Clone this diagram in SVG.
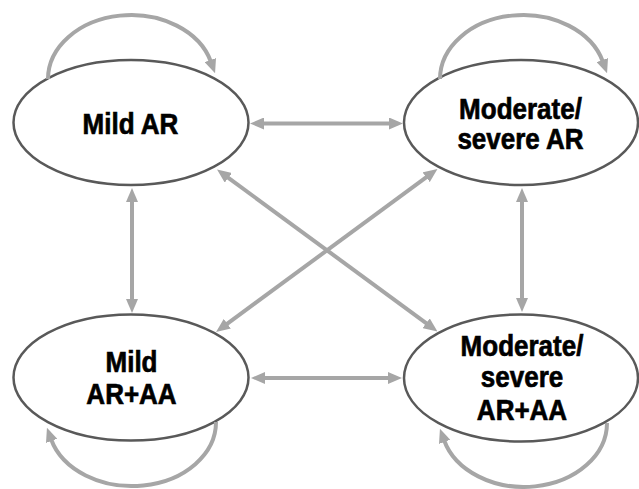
<svg xmlns="http://www.w3.org/2000/svg" width="639" height="489" viewBox="0 0 639 489">
<style>
.node ellipse{fill:#ffffff;stroke:#595959;stroke-width:2.5}
.node text{font-family:"Liberation Sans",Arial,sans-serif;font-weight:700;font-size:26px;fill:#000000;stroke:#000000;stroke-width:0.6;text-anchor:middle}
.conn{fill:none;stroke:#A6A6A6;stroke-width:4}
</style>
<defs>
<marker id="ah" markerUnits="userSpaceOnUse" markerWidth="14" markerHeight="12" viewBox="0 0 14 12" refX="2" refY="6" orient="auto-start-reverse">
<path d="M0,0 L14,6 L0,12 z" fill="#A6A6A6"/>
</marker>
</defs>
<rect width="639" height="489" fill="#ffffff"/>
<g id="node-mild-ar" class="node">
<ellipse cx="131" cy="122.5" rx="117.5" ry="62.5"/>
<text transform="translate(130.5,134) scale(1,1.1)">Mild AR</text>
</g>
<g id="node-modsev-ar" class="node">
<ellipse cx="521" cy="122.5" rx="117" ry="62.5"/>
<text transform="translate(520.5,118.5) scale(1,1.1)">Moderate/</text>
<text transform="translate(520.5,148.5) scale(1,1.1)">severe AR</text>
</g>
<g id="node-mild-araa" class="node">
<ellipse cx="131" cy="377.5" rx="117.5" ry="63"/>
<text transform="translate(131.5,372) scale(1,1.1)">Mild</text>
<text transform="translate(131.5,404) scale(1,1.1)">AR+AA</text>
</g>
<g id="node-modsev-araa" class="node">
<ellipse cx="521" cy="378" rx="117" ry="63.5"/>
<text transform="translate(522,356) scale(1,1.1)">Moderate/</text>
<text transform="translate(522,387) scale(1,1.1)">severe</text>
<text transform="translate(522,420) scale(1,1.1)">AR+AA</text>
</g>
<g id="connectors">
<line class="conn" x1="262" y1="123.5" x2="391" y2="123.5" marker-start="url(#ah)" marker-end="url(#ah)"/>
<line class="conn" x1="263" y1="378" x2="390" y2="378" marker-start="url(#ah)" marker-end="url(#ah)"/>
<line class="conn" x1="132" y1="200" x2="132" y2="301" marker-start="url(#ah)" marker-end="url(#ah)"/>
<line class="conn" x1="522" y1="200" x2="522" y2="300" marker-start="url(#ah)" marker-end="url(#ah)"/>
<line class="conn" x1="226.7" y1="176.6" x2="427.8" y2="324.4" marker-start="url(#ah)" marker-end="url(#ah)"/>
<line class="conn" x1="427.8" y1="176.1" x2="225.7" y2="324.9" marker-start="url(#ah)" marker-end="url(#ah)"/>
<path class="conn" d="M48,79 A83,64 0 0 1 211,62" marker-end="url(#ah)"/>
<path class="conn" d="M440,79 A83,64 0 0 1 603,62" marker-end="url(#ah)"/>
<path class="conn" d="M216,422 A84,64 0 0 1 51,439" marker-end="url(#ah)"/>
<path class="conn" d="M607,423 A83,64 0 0 1 444,440" marker-end="url(#ah)"/>
</g>
</svg>
